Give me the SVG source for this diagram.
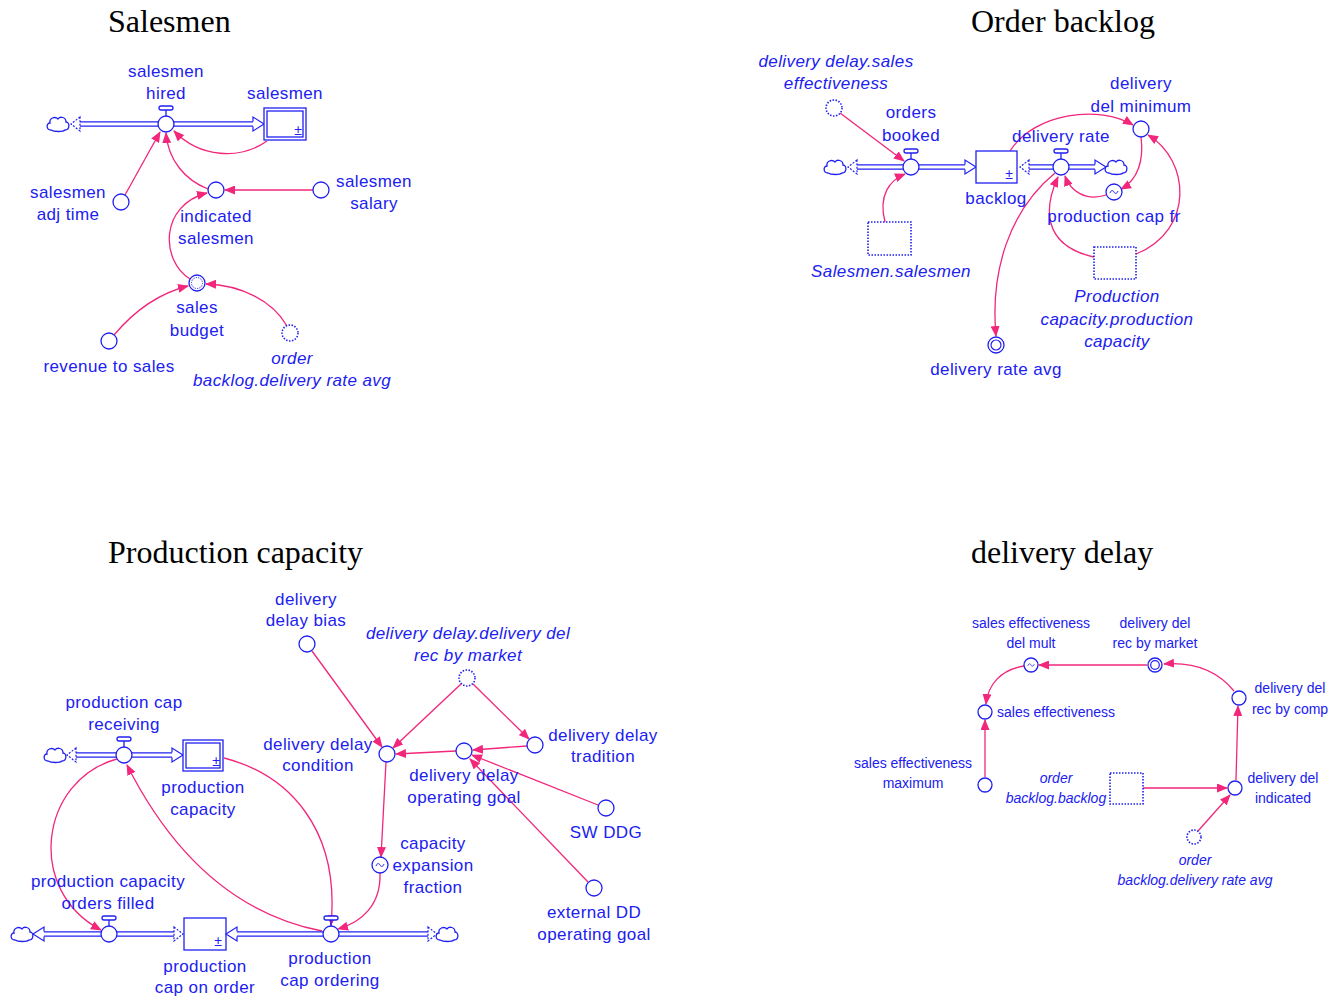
<svg xmlns="http://www.w3.org/2000/svg" width="1343" height="996" viewBox="0 0 1343 996">
<style>
  text { font-family: "Liberation Sans", Arial, sans-serif; font-size: 17px; letter-spacing: 0.4px; fill: #2020f0; text-anchor: middle; }
  .title { font-family: "Liberation Serif", "Times New Roman", serif; font-size: 32px; letter-spacing: 0; fill: #000; text-anchor: start; }
  .it { font-style: italic; }
  .sm { font-size: 14px; letter-spacing: 0; }
  .st { text-anchor: start; }
  .pm { font-size: 14px; letter-spacing: 0; }
  .n { fill: #fff; stroke: #2020f0; stroke-width: 1.3; }
  .ghost { fill: #fff; stroke: #2020f0; stroke-width: 1.6; stroke-dasharray: 1.5 1.5; }
  .po { stroke: #2020f0; stroke-width: 5.5; fill: none; }
  .pi { stroke: #fff; stroke-width: 2.8; fill: none; }
  .hd { fill: #fff; stroke: #2020f0; stroke-width: 1.2; }
  .hdd { fill: #fff; stroke: #2020f0; stroke-width: 1.2; stroke-dasharray: 2 1.5; }
  .tl { fill: none; stroke: #2020f0; stroke-width: 1; }
  .lk { fill: none; stroke: #f2267a; stroke-width: 1.3; marker-end: url(#ah); }
</style>
<defs>
  <marker id="ah" markerWidth="11" markerHeight="9" refX="10" refY="4.5" orient="auto" markerUnits="userSpaceOnUse">
    <path d="M0,0 L11,4.5 L0,9 Z" fill="#f2267a"/>
  </marker>
  <path id="cloud" class="n" d="M-7,6 C-12,6 -12,-1 -8,-1 C-9,-6 -3,-8 0,-5 C2,-8 8,-7 8,-2 C12,-2 12,6 7,6 C5,8 -4,8 -7,6 Z"/>
  <g id="valve">
    <rect x="-7" y="-18" width="14" height="4" rx="2" class="n"/>
    <line x1="0" y1="-14" x2="0" y2="-8" stroke="#2020f0" stroke-width="1.3"/>
    <circle r="8" class="n"/>
  </g>
  <path id="tilde" class="tl" d="M-4,1 C-3,-2 -1,-2 0,0 C1,2 3,2 4,-1"/>
</defs>

<!-- section titles -->
<text class="title" x="108" y="32">Salesmen</text>
<text class="title" x="971" y="32">Order backlog</text>
<text class="title" x="108" y="563">Production capacity</text>
<text class="title" x="971" y="563">delivery delay</text>

<!-- information links -->
<g id="connectors">
  <!-- Salesmen -->
  <path class="lk" d="M125,195 L160,132"/>
  <path class="lk" d="M208,189 C185,180 168,160 166,133"/>
  <path class="lk" d="M267,141 C240,160 200,158 174,131"/>
  <path class="lk" d="M313,190 L225,190"/>
  <path class="lk" d="M190,279 C160,260 160,205 207,193"/>
  <path class="lk" d="M114,335 C135,310 160,293 188,286"/>
  <path class="lk" d="M287,326 C272,300 240,285 206,284"/>
  <!-- Order backlog -->
  <path class="lk" d="M840,113 L904,161"/>
  <path class="lk" d="M885,222 C878,195 890,180 905,174"/>
  <path class="lk" d="M1010,151 C1035,112 1100,105 1133,125"/>
  <path class="lk" d="M1141,137 C1144,160 1138,180 1121,189"/>
  <path class="lk" d="M1106,195 C1085,202 1070,190 1065,176"/>
  <path class="lk" d="M1094,257 C1040,245 1045,205 1058,177"/>
  <path class="lk" d="M1136,254 C1195,230 1190,160 1148,135"/>
  <path class="lk" d="M1055,173 C1010,210 990,270 996,336"/>
  <!-- Production capacity -->
  <path class="lk" d="M312,651 L382,747"/>
  <path class="lk" d="M461,684 L393,748"/>
  <path class="lk" d="M473,684 L529,739"/>
  <path class="lk" d="M527,746 L473,750"/>
  <path class="lk" d="M456,751 L396,754"/>
  <path class="lk" d="M598,805 L472,755"/>
  <path class="lk" d="M588,882 L470,759"/>
  <path class="lk" d="M386,762 L381,857"/>
  <path class="lk" d="M380,873 C381,905 362,922 338,929"/>
  <path class="lk" d="M224,758 C290,775 340,830 331,925"/>
  <path class="lk" d="M322,931 C240,915 175,860 127,765"/>
  <path class="lk" d="M117,759 C40,780 25,890 101,930"/>
  <!-- delivery delay -->
  <path class="lk" d="M1147,665 L1039,665"/>
  <path class="lk" d="M1024,666 C1000,670 988,685 986,704"/>
  <path class="lk" d="M985,777 L985,720"/>
  <path class="lk" d="M1143,788 L1227,788"/>
  <path class="lk" d="M1198,831 L1230,795"/>
  <path class="lk" d="M1236,780 L1238,706"/>
  <path class="lk" d="M1234,691 C1215,668 1190,662 1164,664"/>
</g>

<!-- ===== Salesmen ===== -->
<g id="salesmen-hired">
  <line class="po" x1="80" y1="124" x2="254" y2="124"/>
  <line class="pi" x1="80" y1="124" x2="255" y2="124"/>
  <path class="hdd" d="M80,117 L71,124 L80,131 Z"/>
  <path class="hd" d="M253,121.5 L253,117 L264,124 L253,131 L253,126.5"/>
  <use href="#cloud" x="58" y="124"/>
  <use href="#valve" x="166" y="124"/>
  <text x="166" y="77">salesmen</text>
  <text x="166" y="99">hired</text>
</g>
<g id="salesmen">
  <rect x="264" y="108" width="42" height="32" class="n"/>
  <rect x="267" y="111" width="36" height="26" class="n"/>
  <text class="pm" x="298" y="135">±</text>
  <text x="285" y="99">salesmen</text>
</g>
<g id="salesmen-adj-time">
  <circle cx="121" cy="202" r="8" class="n"/>
  <text x="68" y="198">salesmen</text>
  <text x="68" y="220">adj time</text>
</g>
<g id="indicated-salesmen">
  <circle cx="216" cy="190" r="8" class="n"/>
  <text x="216" y="222">indicated</text>
  <text x="216" y="244">salesmen</text>
</g>
<g id="salesmen-salary">
  <circle cx="321" cy="190" r="8" class="n"/>
  <text x="374" y="187">salesmen</text>
  <text x="374" y="209">salary</text>
</g>
<g id="sales-budget">
  <circle cx="197" cy="283" r="8" class="n"/>
  <circle cx="197" cy="283" r="5.5" fill="none" stroke="#2020f0" stroke-width="1" stroke-dasharray="1.2 1.2"/>
  <text x="197" y="313">sales</text>
  <text x="197" y="336">budget</text>
</g>
<g id="revenue-to-sales">
  <circle cx="109" cy="341" r="8" class="n"/>
  <text x="109" y="372">revenue to sales</text>
</g>
<g id="order-backlog-delivery-rate-avg-ref">
  <circle cx="290" cy="333" r="8" class="ghost"/>
  <text class="it" x="292" y="364">order</text>
  <text class="it" x="292" y="386">backlog.delivery rate avg</text>
</g>

<!-- ===== Order backlog ===== -->
<g id="delivery-delay-sales-effectiveness-ref">
  <circle cx="834" cy="108" r="8" class="ghost"/>
  <text class="it" x="836" y="67">delivery delay.sales</text>
  <text class="it" x="836" y="89">effectiveness</text>
</g>
<g id="orders-booked">
  <line class="po" x1="857" y1="167" x2="966" y2="167"/>
  <line class="pi" x1="857" y1="167" x2="967" y2="167"/>
  <path class="hdd" d="M857,160 L848,167 L857,174 Z"/>
  <path class="hd" d="M965,164.5 L965,160 L976,167 L965,174 L965,169.5"/>
  <use href="#cloud" x="835" y="167"/>
  <use href="#valve" x="911" y="167"/>
  <text x="911" y="118">orders</text>
  <text x="911" y="141">booked</text>
</g>
<g id="backlog">
  <rect x="976" y="151" width="41" height="32" class="n"/>
  <text class="pm" x="1009" y="179">±</text>
  <text x="996" y="204">backlog</text>
</g>
<g id="delivery-rate">
  <line class="po" x1="1029" y1="167" x2="1096" y2="167"/>
  <line class="pi" x1="1029" y1="167" x2="1097" y2="167"/>
  <path class="hdd" d="M1029,160 L1020,167 L1029,174 Z"/>
  <path class="hd" d="M1095,164.5 L1095,160 L1106,167 L1095,174 L1095,169.5"/>
  <use href="#cloud" x="1116" y="167"/>
  <use href="#valve" x="1061" y="167"/>
  <text x="1061" y="142">delivery rate</text>
</g>
<g id="delivery-del-minimum">
  <circle cx="1141" cy="129" r="8" class="n"/>
  <text x="1141" y="89">delivery</text>
  <text x="1141" y="112">del minimum</text>
</g>
<g id="production-cap-fr">
  <circle cx="1114" cy="192" r="8" class="n"/>
  <use href="#tilde" x="1114" y="192"/>
  <text x="1114" y="222">production cap fr</text>
</g>
<g id="salesmen-salesmen-ref">
  <rect x="868" y="222" width="43" height="33" class="ghost"/>
  <text class="it" x="891" y="277">Salesmen.salesmen</text>
</g>
<g id="production-capacity-ref">
  <rect x="1094" y="247" width="42" height="32" class="ghost"/>
  <text class="it" x="1117" y="302">Production</text>
  <text class="it" x="1117" y="325">capacity.production</text>
  <text class="it" x="1117" y="347">capacity</text>
</g>
<g id="delivery-rate-avg">
  <circle cx="996" cy="345" r="8" class="n"/>
  <circle cx="996" cy="345" r="5" fill="none" stroke="#2020f0" stroke-width="1.2"/>
  <text x="996" y="375">delivery rate avg</text>
</g>

<!-- ===== Production capacity ===== -->
<g id="production-cap-receiving">
  <line class="po" x1="76" y1="755" x2="173" y2="755"/>
  <line class="pi" x1="76" y1="755" x2="174" y2="755"/>
  <path class="hdd" d="M76,748 L67,755 L76,762 Z"/>
  <path class="hd" d="M172,752.5 L172,748 L183,755 L172,762 L172,757.5"/>
  <use href="#cloud" x="55" y="755"/>
  <use href="#valve" x="124" y="755"/>
  <text x="124" y="708">production cap</text>
  <text x="124" y="730">receiving</text>
</g>
<g id="production-capacity">
  <rect x="183" y="740" width="40" height="31" class="n"/>
  <rect x="186" y="743" width="34" height="25" class="n"/>
  <text class="pm" x="216" y="766">±</text>
  <text x="203" y="793">production</text>
  <text x="203" y="815">capacity</text>
</g>
<g id="production-capacity-orders-filled">
  <line class="po" x1="43" y1="934" x2="174" y2="934"/>
  <line class="pi" x1="42" y1="934" x2="174" y2="934"/>
  <path class="hd" d="M44,931.5 L44,927 L33,934 L44,941 L44,936.5"/>
  <path class="hdd" d="M174,927 L183,934 L174,941 Z"/>
  <use href="#cloud" x="22" y="934"/>
  <use href="#valve" x="109" y="934"/>
  <text x="108" y="887">production capacity</text>
  <text x="108" y="909">orders filled</text>
</g>
<g id="production-cap-on-order">
  <rect x="184" y="918" width="42" height="32" class="n"/>
  <text class="pm" x="218" y="946">±</text>
  <text x="205" y="972">production</text>
  <text x="205" y="993">cap on order</text>
</g>
<g id="production-cap-ordering">
  <line class="po" x1="236" y1="934" x2="428" y2="934"/>
  <line class="pi" x1="235" y1="934" x2="428" y2="934"/>
  <path class="hd" d="M237,931.5 L237,927 L226,934 L237,941 L237,936.5"/>
  <path class="hdd" d="M428,927 L437,934 L428,941 Z"/>
  <use href="#cloud" x="447" y="934"/>
  <use href="#valve" x="331" y="934"/>
  <text x="330" y="964">production</text>
  <text x="330" y="986">cap ordering</text>
</g>
<g id="delivery-delay-bias">
  <circle cx="307" cy="644" r="8" class="n"/>
  <text x="306" y="605">delivery</text>
  <text x="306" y="626">delay bias</text>
</g>
<g id="delivery-del-rec-by-market-ref">
  <circle cx="467" cy="678" r="8" class="ghost"/>
  <text class="it" x="468" y="639">delivery delay.delivery del</text>
  <text class="it" x="468" y="661">rec by market</text>
</g>
<g id="delivery-delay-condition">
  <circle cx="387" cy="754" r="8" class="n"/>
  <text x="318" y="750">delivery delay</text>
  <text x="318" y="771">condition</text>
</g>
<g id="delivery-delay-tradition">
  <circle cx="535" cy="745" r="8" class="n"/>
  <text x="603" y="741">delivery delay</text>
  <text x="603" y="762">tradition</text>
</g>
<g id="delivery-delay-operating-goal">
  <circle cx="464" cy="751" r="8" class="n"/>
  <text x="464" y="781">delivery delay</text>
  <text x="464" y="803">operating goal</text>
</g>
<g id="sw-ddg">
  <circle cx="606" cy="808" r="8" class="n"/>
  <text x="606" y="838">SW DDG</text>
</g>
<g id="external-dd-operating-goal">
  <circle cx="594" cy="888" r="8" class="n"/>
  <text x="594" y="918">external DD</text>
  <text x="594" y="940">operating goal</text>
</g>
<g id="capacity-expansion-fraction">
  <circle cx="380" cy="865" r="8" class="n"/>
  <use href="#tilde" x="380" y="865"/>
  <text x="433" y="849">capacity</text>
  <text x="433" y="871">expansion</text>
  <text x="433" y="893">fraction</text>
</g>

<!-- ===== delivery delay ===== -->
<g id="sales-effectiveness-del-mult">
  <circle cx="1031" cy="665" r="7" class="n"/>
  <use href="#tilde" x="1031" y="665" transform="translate(1031 665) scale(0.8) translate(-1031 -665)"/>
  <text class="sm" x="1031" y="628">sales effectiveness</text>
  <text class="sm" x="1031" y="648">del mult</text>
</g>
<g id="delivery-del-rec-by-market">
  <circle cx="1155" cy="665" r="7" class="n"/>
  <circle cx="1155" cy="665" r="4.3" fill="none" stroke="#2020f0" stroke-width="1.2"/>
  <text class="sm" x="1155" y="628">delivery del</text>
  <text class="sm" x="1155" y="648">rec by market</text>
</g>
<g id="delivery-del-rec-by-comp">
  <circle cx="1239" cy="698" r="7" class="n"/>
  <text class="sm" x="1290" y="693">delivery del</text>
  <text class="sm" x="1290" y="714">rec by comp</text>
</g>
<g id="sales-effectiveness">
  <circle cx="985" cy="712" r="7" class="n"/>
  <text class="sm st" x="997" y="717">sales effectiveness</text>
</g>
<g id="sales-effectiveness-maximum">
  <circle cx="985" cy="785" r="7" class="n"/>
  <text class="sm" x="913" y="768">sales effectiveness</text>
  <text class="sm" x="913" y="788">maximum</text>
</g>
<g id="order-backlog-backlog-ref">
  <rect x="1110" y="773" width="33" height="31" class="ghost"/>
  <text class="sm it" x="1056" y="783">order</text>
  <text class="sm it" x="1056" y="803">backlog.backlog</text>
</g>
<g id="delivery-del-indicated">
  <circle cx="1235" cy="788" r="7" class="n"/>
  <text class="sm" x="1283" y="783">delivery del</text>
  <text class="sm" x="1283" y="803">indicated</text>
</g>
<g id="order-backlog-delivery-rate-avg-ref2">
  <circle cx="1194" cy="837" r="7" class="ghost"/>
  <text class="sm it" x="1195" y="865">order</text>
  <text class="sm it" x="1195" y="885">backlog.delivery rate avg</text>
</g>
</svg>
